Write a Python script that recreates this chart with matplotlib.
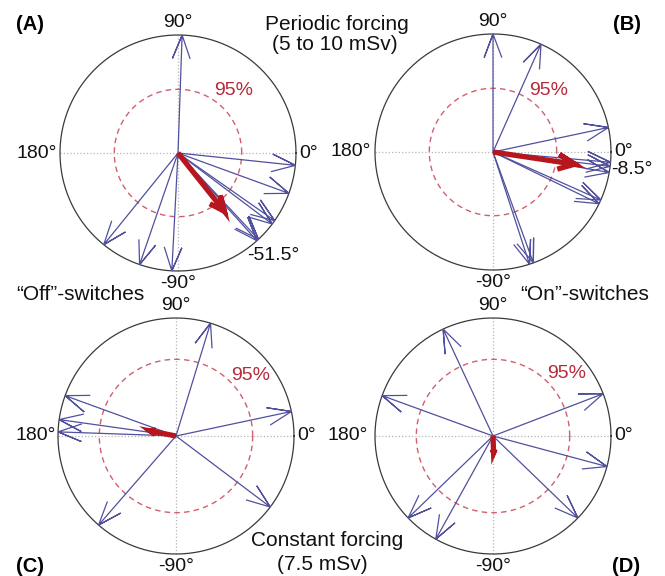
import numpy as np
import matplotlib
matplotlib.use("Agg")
import matplotlib.pyplot as plt

plt.rcParams['font.family'] = ['Liberation Sans', 'DejaVu Sans']

# arrow directions (deg) of the single switches, all unit length
angles_A = [88, -6, -20, -35, -37, -47, -48, -129, -109, -93]
angles_B = [90, 66, 12, -5, -7, -10, -24, -26, -70, -72]
angles_C = [73, 12, -37, -131, 160, 172, 178]
angles_D = [115, 160, 21, -15, -44, -136, -119]

# mean vectors (angle deg, length)
mean_A = (-51.5, 0.63)
mean_B = (-8.5, 0.70)
mean_C = (169, 0.22)
mean_D = (-88, 0.14)

# 95% significance radius
r95 = [0.54, 0.54, 0.65, 0.65]

panels = ['(A)', '(B)', '(C)', '(D)']
mean_labels = ['-51.5°', '-8.5°', None, None]

W, H = 665, 576
fig = plt.figure(figsize=(W / 100, H / 100), dpi=100)

centers = [(178, 153), (493, 152), (176, 436), (493, 436)]
R = 118
half = 1.35

blue = '#50509e'
red = '#b8161e'


def px(x, y):
    return x / W, 1 - y / H


def compass_arrow(ax, ang, r, color, lw, hw=0.075):
    th = np.radians(ang)
    xs = np.array([0, 1, 0.8, 1, 0.8]) * r
    ys = np.array([0, 0, hw, 0, -hw]) * r
    x = xs * np.cos(th) - ys * np.sin(th)
    y = xs * np.sin(th) + ys * np.cos(th)
    ax.plot(x, y, color=color, lw=lw, solid_joinstyle='miter', solid_capstyle='butt')


all_angles = [angles_A, angles_B, angles_C, angles_D]
means = [mean_A, mean_B, mean_C, mean_D]
pct_pos = [(0.47, 0.53), (0.47, 0.52), (0.63, 0.51), (0.62, 0.53)]
mlab_pos = [(0.81, -0.87), (1.18, -0.15), None, None]
left_lab_x = [-1.20, -1.21, -1.19, -1.23]

t = np.linspace(0, 2 * np.pi, 400)
for i in range(4):
    cx, cy = centers[i]
    size = 2 * half * R
    ax = fig.add_axes([(cx - size / 2) / W, (H - cy - size / 2) / H, size / W, size / H])
    ax.set_xlim(-half, half)
    ax.set_ylim(-half, half)
    ax.set_aspect('equal')
    ax.axis('off')

    ax.plot([-1, 1], [0, 0], color='#b5b5b5', lw=0.9, ls=':')
    ax.plot([0, 0], [-1, 1], color='#b5b5b5', lw=0.9, ls=':')
    ax.plot(np.cos(t), np.sin(t), color='#3a3a3a', lw=0.9)
    ax.plot(r95[i] * np.cos(t), r95[i] * np.sin(t), color='#d0606e', lw=1.0, dashes=(4, 3))

    for a in all_angles[i]:
        compass_arrow(ax, a, 1.0, blue, 0.9)
    compass_arrow(ax, means[i][0], means[i][1], red, 3.8, hw=0.09)

    fs = 14
    ax.text(0, 1.11, '90°', ha='center', va='center', fontsize=fs, color='#111')
    ax.text(0, -1.11, '-90°', ha='center', va='center', fontsize=fs, color='#111')
    ax.text(1.11, 0, '0°', ha='center', va='center', fontsize=fs, color='#111')
    ax.text(left_lab_x[i], 0, '180°', ha='center', va='center', fontsize=fs, color='#111')
    ax.text(pct_pos[i][0], pct_pos[i][1], '95%', ha='center', va='center',
            fontsize=fs, color='#b52a3a')
    if mean_labels[i]:
        ax.text(mlab_pos[i][0], mlab_pos[i][1], mean_labels[i], ha='center', va='center',
                fontsize=fs, color='#111')

for lab, (x, y) in zip(panels, [(30, 25), (627, 25), (30, 566), (626, 566)]):
    fig.text(*px(x, y), lab, ha='center', va='center', fontsize=14.5, fontweight='bold')

fig.text(*px(337, 24), 'Periodic forcing', ha='center', va='center', fontsize=15, color='#111')
fig.text(*px(335, 45), '(5 to 10 mSv)', ha='center', va='center', fontsize=15, color='#111')
fig.text(*px(327, 541), 'Constant forcing', ha='center', va='center', fontsize=15, color='#111')
fig.text(*px(322, 565), '(7.5 mSv)', ha='center', va='center', fontsize=15, color='#111')
fig.text(*px(80, 295), '\u201cOff\u201d-switches', ha='center', va='center', fontsize=15, color='#111')
fig.text(*px(585, 295), '\u201cOn\u201d-switches', ha='center', va='center', fontsize=15, color='#111')

fig.savefig('out.png', dpi=100)
